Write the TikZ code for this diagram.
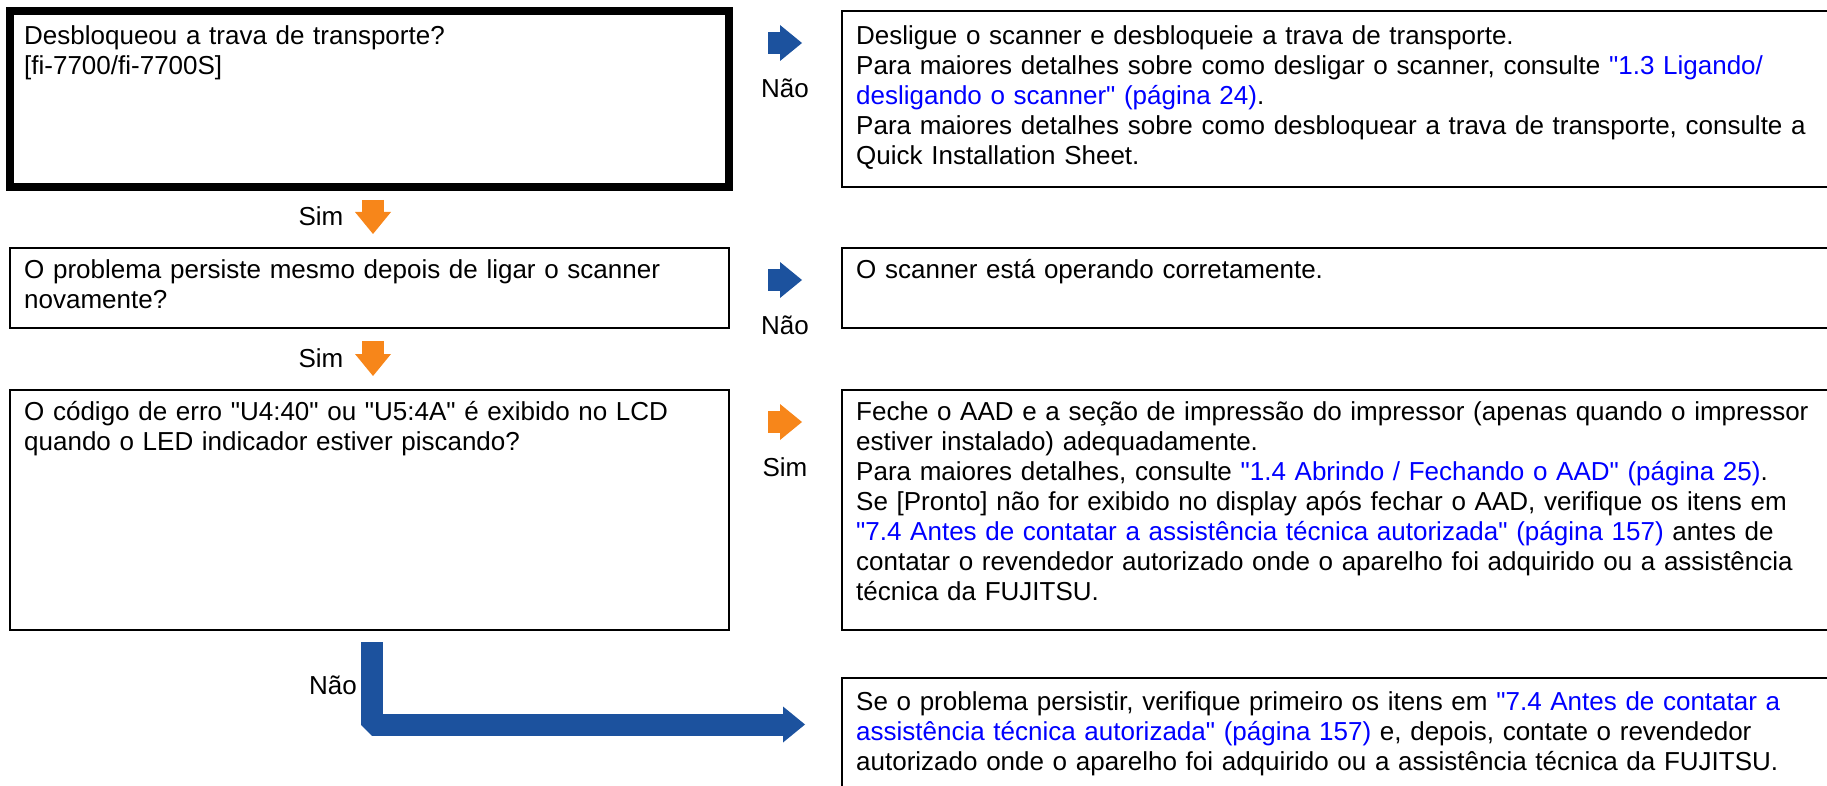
\documentclass[tikz,border=0pt]{standalone}
\usepackage{fontspec}
\setmainfont{Liberation Sans}[Ligatures=TeXOff]
\usetikzlibrary{arrows.meta}
\definecolor{arrblue}{RGB}{28,82,158}
\definecolor{arrorange}{RGB}{247,134,26}
\definecolor{linkblue}{RGB}{0,0,255}
\newcommand{\lnk}[1]{\textcolor{linkblue}{#1}}

\begin{document}
\begin{tikzpicture}[x=1pt, y=-1pt, every node/.style={font=\fontsize{26}{30}\selectfont}, box/.style={draw, line width=2.5pt, anchor=north west, inner sep=0pt, outer sep=0pt}, txt/.style={anchor=base west, align=left, inner sep=0pt, text width=960pt}, lbl/.style={inner sep=0pt}, blk/.style={line width=22pt, -{Triangle[length=22pt, width=36pt, line width=0pt]}}]
	\useasboundingbox (0,0) rectangle (1827,786);
	\node[box, line width=8pt, minimum width=719pt, minimum height=176pt] (q1) at (10,11) {};
	\node[box, minimum width=719pt, minimum height=80pt] (q2) at (10,248) {};
	\node[box, minimum width=719pt, minimum height=240pt] (q3) at (10,390) {};
	\node[box, minimum width=1000pt, minimum height=176pt] (a1) at (842,11) {};
	\node[box, minimum width=1000pt, minimum height=80pt] (a2) at (842,248) {};
	\node[box, minimum width=1000pt, minimum height=240pt] (a3) at (842,390) {};
	\node[box, minimum width=1000pt, minimum height=150pt] (a4) at (842,678) {};
	\node[txt] (q1t) at ([shift={(14,34)}]q1.north west) {Desbloqueou a trava de transporte?\\{[}fi-7700/fi-7700S{]}};
	\node[txt] (q2t) at ([shift={(14,30)}]q2.north west) {O problema persiste mesmo depois de ligar o scanner\\novamente?};
	\node[txt] (q3t) at ([shift={(14,30)}]q3.north west) {O código de erro "U4:40" ou "U5:4A" é exibido no LCD\\quando o LED indicador estiver piscando?};
	\node[txt] (a1t) at ([shift={(14,34)}]a1.north west) {Desligue o scanner e desbloqueie a trava de transporte.\\Para maiores detalhes sobre como desligar o scanner, consulte \lnk{"1.3 Ligando/}\\\lnk{desligando o scanner" (página 24)}.\\Para maiores detalhes sobre como desbloquear a trava de transporte, consulte a\\Quick Installation Sheet.};
	\node[txt] (a2t) at ([shift={(14,30)}]a2.north west) {O scanner está operando corretamente.};
	\node[txt] (a3t) at ([shift={(14,30)}]a3.north west) {Feche o AAD e a seção de impressão do impressor (apenas quando o impressor\\estiver instalado) adequadamente.\\Para maiores detalhes, consulte \lnk{"1.4 Abrindo / Fechando o AAD" (página 25)}.\\Se {[}Pronto{]} não for exibido no display após fechar o AAD, verifique os itens em\\\lnk{"7.4 Antes de contatar a assistência técnica autorizada" (página 157)} antes de\\contatar o revendedor autorizado onde o aparelho foi adquirido ou a assistência\\técnica da FUJITSU.};
	\node[txt] (a4t) at ([shift={(14,32)}]a4.north west) {Se o problema persistir, verifique primeiro os itens em \lnk{"7.4 Antes de contatar a}\\\lnk{assistência técnica autorizada" (página 157)} e, depois, contate o revendedor\\autorizado onde o aparelho foi adquirido ou a assistência técnica da FUJITSU.};
	\foreach \q/\a/\c in {q1/a1/arrblue, q2/a2/arrblue, q3/a3/arrorange} {\draw[blk, \c] ([shift={(39,32)}]\q.north east) -- ([shift={(-40,32)}]\a.north west);}
	\foreach \p/\n in {q1/q2, q2/q3} {\draw[blk, arrorange] ([shift={(3.5,13)}]\p.south) -- ([shift={(3.5,-14)}]\n.north);}
	\draw[blk, arrblue, line join=bevel] ([shift={(362,12)}]q3.south west) |- ([shift={(-37,46.5)}]a4.north west);
	\node[lbl] (nao1) at (785,88) {Não};
	\node[lbl] (nao2) at (785,325) {Não};
	\node[lbl] (sim3) at (785,467) {Sim};
	\node[lbl] (sim1) at (321,216) {Sim};
	\node[lbl] (sim2) at (321,358) {Sim};
	\node[lbl] (nao4) at (333,685) {Não};
\end{tikzpicture}
\end{document}
